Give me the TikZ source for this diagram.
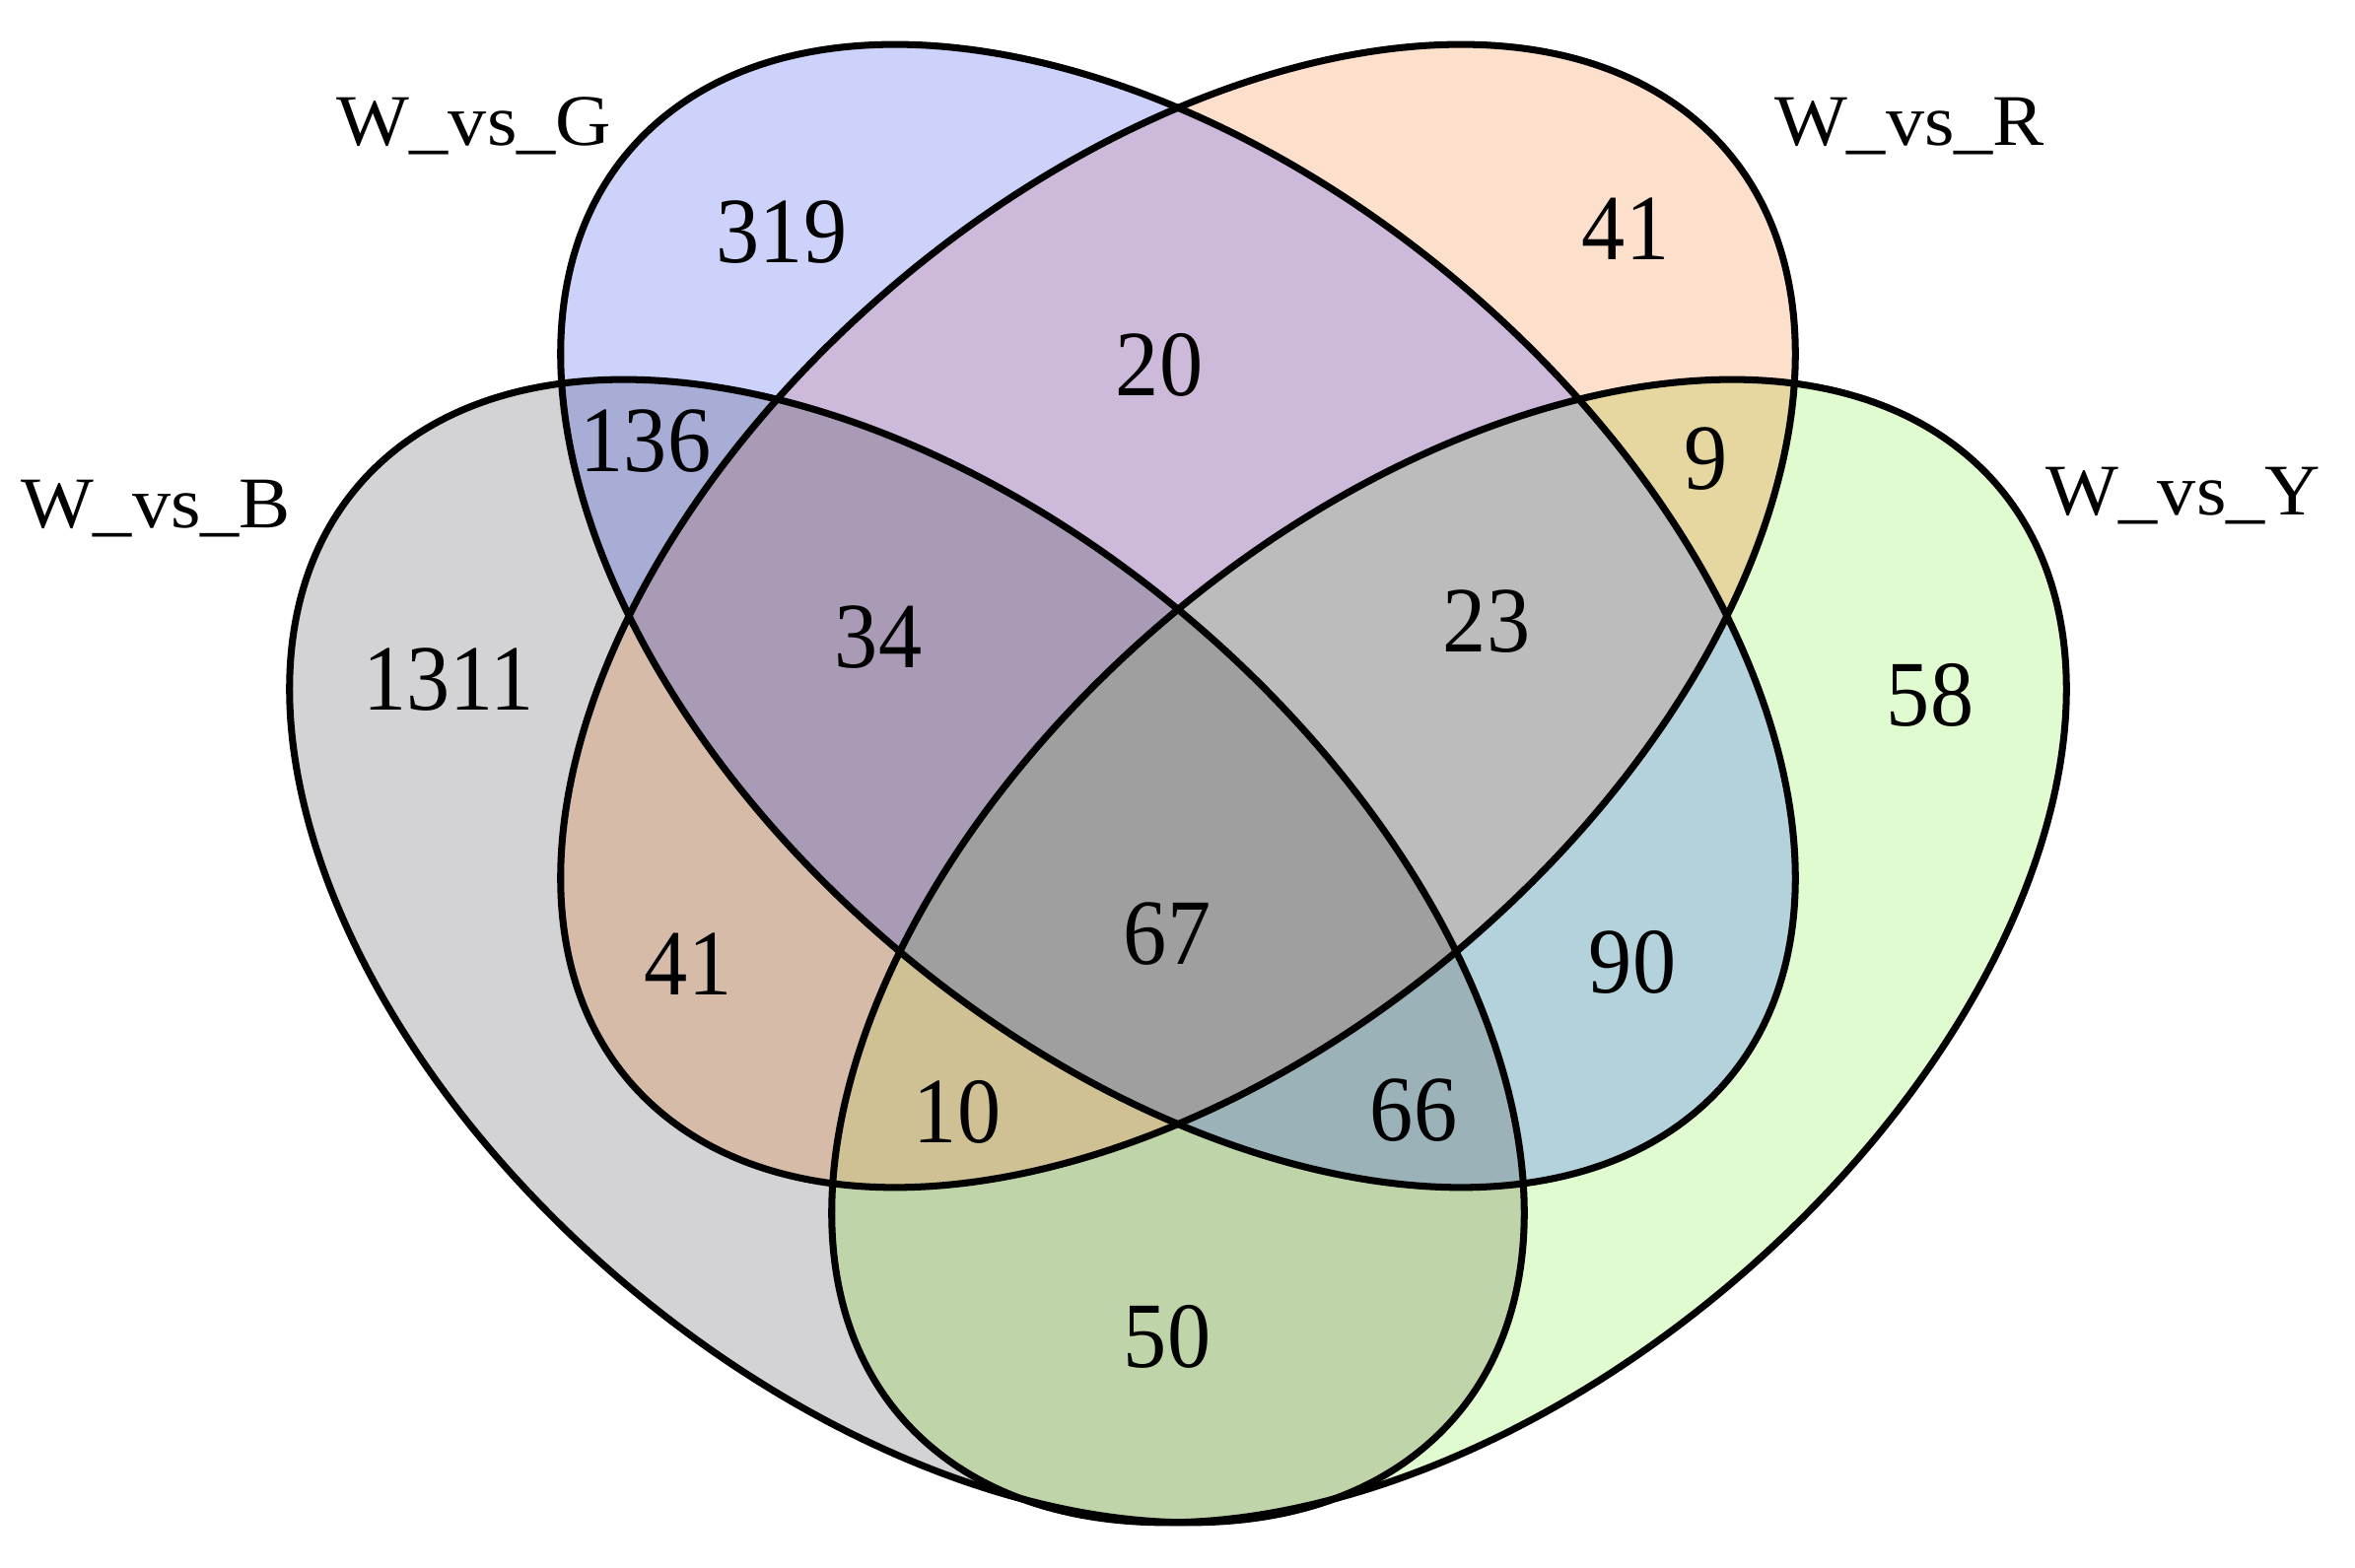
\documentclass[tikz,border=0pt]{standalone}
\usepackage{fontspec}
\setmainfont{Liberation Serif}
\newfontfamily\numfont[FakeStretch=0.93]{Liberation Serif}
\newfontfamily\lblfont[FakeStretch=1.06]{Liberation Serif}
\usepackage{tikz}
\usepackage{xcolor}
% single sets
\definecolor{vG}{HTML}{CCD2F9}
\definecolor{vR}{HTML}{FDE0CC}
\definecolor{vB}{HTML}{D3D3D5}
\definecolor{vY}{HTML}{E1FBD0}
% pairs
\definecolor{vGR}{HTML}{CDB9DA}
\definecolor{vGB}{HTML}{A8ADD6}
\definecolor{vGY}{HTML}{B4D2DC}
\definecolor{vRB}{HTML}{D5BBA8}
\definecolor{vRY}{HTML}{E5D79F}
\definecolor{vBY}{HTML}{BFD4A8}
% triples and all four
\definecolor{vGRB}{HTML}{A99BB5}
\definecolor{vGRY}{HTML}{BDBCBC}
\definecolor{vGBY}{HTML}{9AB2B8}
\definecolor{vRBY}{HTML}{CFC194}
\definecolor{vGRBY}{HTML}{9F9FA0}

\tikzset{
  setG/.style={shift={(11.95,9.66)}, xscale=1.08, rotate=-45},
  setR/.style={shift={(11.95,9.66)}, xscale=1.08, rotate=45},
  setB/.style={shift={(9.20,6.26)}, xscale=1.08, rotate=-45},
  setY/.style={shift={(14.70,6.26)}, xscale=1.08, rotate=45},
  vennline/.style={draw=black, line width=2pt},
  regnum/.style={inner sep=0pt, font=\numfont\fontsize{27}{31}\selectfont},
  setlabel/.style={inner sep=0pt, anchor=base, font=\lblfont\fontsize{21}{25}\selectfont}
}

\begin{document}
\begin{tikzpicture}
  \fill[white] (0,0) rectangle (23.89,15.91);
  \useasboundingbox (0,0) rectangle (23.89,15.91);
  % one set
  \fill[setB, vB] (0,0) ellipse (7 and 4.27);
  \fill[setY, vY] (0,0) ellipse (7 and 4.27);
  \fill[setG, vG] (0,0) ellipse (7 and 4.27);
  \fill[setR, vR] (0,0) ellipse (7 and 4.27);
  % two sets
  \begin{scope}
    \clip[setG] (0,0) ellipse (7 and 4.27);
    \fill[setR, vGR] (0,0) ellipse (7 and 4.27);
  \end{scope}
  \begin{scope}
    \clip[setG] (0,0) ellipse (7 and 4.27);
    \fill[setB, vGB] (0,0) ellipse (7 and 4.27);
  \end{scope}
  \begin{scope}
    \clip[setG] (0,0) ellipse (7 and 4.27);
    \fill[setY, vGY] (0,0) ellipse (7 and 4.27);
  \end{scope}
  \begin{scope}
    \clip[setR] (0,0) ellipse (7 and 4.27);
    \fill[setB, vRB] (0,0) ellipse (7 and 4.27);
  \end{scope}
  \begin{scope}
    \clip[setR] (0,0) ellipse (7 and 4.27);
    \fill[setY, vRY] (0,0) ellipse (7 and 4.27);
  \end{scope}
  \begin{scope}
    \clip[setB] (0,0) ellipse (7 and 4.27);
    \fill[setY, vBY] (0,0) ellipse (7 and 4.27);
  \end{scope}
  % three sets
  \begin{scope}
    \clip[setG] (0,0) ellipse (7 and 4.27);
    \clip[setR] (0,0) ellipse (7 and 4.27);
    \fill[setB, vGRB] (0,0) ellipse (7 and 4.27);
  \end{scope}
  \begin{scope}
    \clip[setG] (0,0) ellipse (7 and 4.27);
    \clip[setR] (0,0) ellipse (7 and 4.27);
    \fill[setY, vGRY] (0,0) ellipse (7 and 4.27);
  \end{scope}
  \begin{scope}
    \clip[setG] (0,0) ellipse (7 and 4.27);
    \clip[setB] (0,0) ellipse (7 and 4.27);
    \fill[setY, vGBY] (0,0) ellipse (7 and 4.27);
  \end{scope}
  \begin{scope}
    \clip[setR] (0,0) ellipse (7 and 4.27);
    \clip[setB] (0,0) ellipse (7 and 4.27);
    \fill[setY, vRBY] (0,0) ellipse (7 and 4.27);
  \end{scope}
  % all four
  \begin{scope}
    \clip[setG] (0,0) ellipse (7 and 4.27);
    \clip[setR] (0,0) ellipse (7 and 4.27);
    \clip[setB] (0,0) ellipse (7 and 4.27);
    \fill[setY, vGRBY] (0,0) ellipse (7 and 4.27);
  \end{scope}
  % outlines
  \draw[setB, vennline] (0,0) ellipse (7 and 4.27);
  \draw[setY, vennline] (0,0) ellipse (7 and 4.27);
  \draw[setG, vennline] (0,0) ellipse (7 and 4.27);
  \draw[setR, vennline] (0,0) ellipse (7 and 4.27);
  % counts
  \node[regnum] (nG) at (7.93,13.55) {319};
  \node[regnum] (nR) at (16.49,13.59) {41};
  \node[regnum] (nB) at (4.55,9.01) {1311};
  \node[regnum] (nY) at (19.58,8.86) {58};
  \node[regnum] (nGR) at (11.76,12.21) {20};
  \node[regnum] (nGB) at (6.55,11.43) {136};
  \node[regnum] (nRY) at (17.31,11.25) {9};
  \node[regnum] (nGRB) at (8.91,9.44) {34};
  \node[regnum] (nGRY) at (15.08,9.60) {23};
  \node[regnum] (nRB) at (6.98,6.13) {41};
  \node[regnum] (nGRBY) at (11.84,6.43) {67};
  \node[regnum] (nGY) at (16.56,6.15) {90};
  \node[regnum] (nRBY) at (9.71,4.63) {10};
  \node[regnum] (nGBY) at (14.34,4.64) {66};
  \node[regnum] (nBY) at (11.84,2.35) {50};
  % set names
  \node[setlabel] (lblG) at (4.81,14.43) {W\_vs\_G};
  \node[setlabel] (lblR) at (19.37,14.43) {W\_vs\_R};
  \node[setlabel] (lblB) at (1.58,10.55) {W\_vs\_B};
  \node[setlabel] (lblY) at (22.15,10.68) {W\_vs\_Y};
\end{tikzpicture}
\end{document}
